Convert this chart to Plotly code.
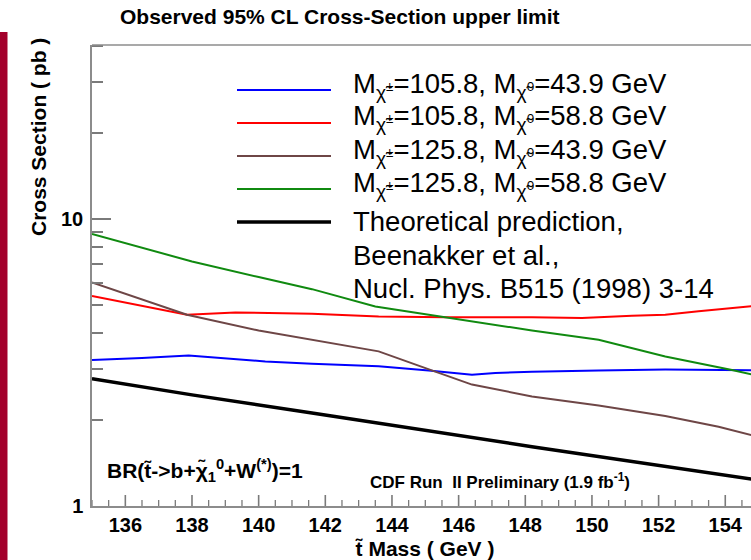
import plotly.graph_objects as go

# ---------------- data ----------------
blue_mass = [135, 136.5, 137.9, 139, 140.2, 141.6, 143.6, 145.1, 146.4, 147.1, 148.2, 150.2, 152.2, 155]
blue_xsec = [3.23, 3.28, 3.35, 3.28, 3.19, 3.13, 3.07, 2.97, 2.87, 2.91, 2.94, 2.97, 2.99, 2.97]

red_mass = [135, 137.85, 139.3, 141.6, 143.6, 145.6, 148.2, 149.7, 151.2, 152.2, 153.2, 155]
red_xsec = [5.40, 4.64, 4.73, 4.68, 4.58, 4.55, 4.55, 4.52, 4.60, 4.64, 4.77, 5.00]

brown_mass = [135, 137.85, 140, 141.6, 143.6, 145.3, 146.4, 148.2, 150.2, 152.2, 153.8, 155]
brown_xsec = [6.01, 4.64, 4.09, 3.80, 3.46, 2.94, 2.65, 2.41, 2.24, 2.06, 1.89, 1.74]

green_mass = [135, 138, 140, 141.6, 143.5, 145.5, 148.2, 150.2, 152.2, 154.2, 155]
green_xsec = [8.87, 7.12, 6.28, 5.70, 4.96, 4.56, 4.09, 3.80, 3.32, 2.98, 2.84]

theory_mass = [135, 138, 141.6, 148.2, 155]
theory_xsec = [2.78, 2.44, 2.11, 1.61, 1.23]

series_names = [
    "M<sub>χ̃<sup>±</sup></sub>=105.8, M<sub>χ̃<sup>0</sup></sub>=43.9 GeV",
    "M<sub>χ̃<sup>±</sup></sub>=105.8, M<sub>χ̃<sup>0</sup></sub>=58.8 GeV",
    "M<sub>χ̃<sup>±</sup></sub>=125.8, M<sub>χ̃<sup>0</sup></sub>=43.9 GeV",
    "M<sub>χ̃<sup>±</sup></sub>=125.8, M<sub>χ̃<sup>0</sup></sub>=58.8 GeV",
]
theory_lines = ["Theoretical prediction,", "Beenakker et al.,", "Nucl. Phys. B515 (1998) 3-14"]

x_tick_vals = [136, 138, 140, 142, 144, 146, 148, 150, 152, 154]
x_minor_vals = [135 + 0.5 * k for k in range(40) if (135 + 0.5 * k) not in x_tick_vals]
y_tick_vals = [1, 10]
y_tick_text = ["1", "10"]
y_minor_vals = [2, 3, 4, 5, 6, 7, 8, 9, 20, 30, 40]

# ---------------- styling ----------------
W, H = 751, 560
ML, MR, MT, MB = 92, 0, 45, 54
PLOT_H = H - MT - MB
FONT = "Liberation Sans, Arial, Helvetica, sans-serif"
AXIS_GRAY = "#8c8c8c"
TICK_GRAY = "#7a7a7a"

colors = ["#0000ff", "#ff0000", "#6e4646", "#108a10", "#000000"]
widths = [2, 2, 2, 2, 3.5]


def xp(px):
    return (px - ML) / (W - ML - MR)


def yp(py):
    return (H - MB - py) / PLOT_H


fig = go.Figure()
data_sets = [
    (blue_mass, blue_xsec),
    (red_mass, red_xsec),
    (brown_mass, brown_xsec),
    (green_mass, green_xsec),
    (theory_mass, theory_xsec),
]
for i, (xs, ys) in enumerate(data_sets):
    fig.add_trace(go.Scatter(x=xs, y=ys, mode="lines",
                             line=dict(color=colors[i], width=widths[i]),
                             showlegend=False, hoverinfo="skip"))

shapes = []
annotations = []

# inside ticks on the x axis (drawn at the axis' own tick values)
for v in x_tick_vals:
    shapes.append(dict(type="line", xref="x", yref="paper", x0=v, x1=v,
                       y0=0, y1=11 / PLOT_H, layer="above",
                       line=dict(color=TICK_GRAY, width=1.6)))
for v in x_minor_vals:
    shapes.append(dict(type="line", xref="x", yref="paper", x0=v, x1=v,
                       y0=0, y1=6 / PLOT_H, layer="above",
                       line=dict(color=TICK_GRAY, width=1.3)))

# left dark-red page bar
shapes.append(dict(type="rect", xref="paper", yref="paper",
                   x0=xp(0), x1=xp(7.5), y0=yp(560), y1=yp(32),
                   fillcolor="#a3002b", line=dict(width=0), layer="above"))
# top frame line
shapes.append(dict(type="line", xref="paper", yref="paper",
                   x0=0, x1=1, y0=1, y1=1,
                   line=dict(color=AXIS_GRAY, width=1.5)))

# legend (drawn manually)
legend_rows_py = [90, 123, 156, 189, 222]
for i, py in enumerate(legend_rows_py):
    shapes.append(dict(type="line", xref="paper", yref="paper",
                       x0=xp(237), x1=xp(331), y0=yp(py), y1=yp(py),
                       line=dict(color=colors[i], width=widths[i])))
for i, name in enumerate(series_names):
    annotations.append(dict(text=name, xref="paper", yref="paper",
                            x=xp(351), y=yp(legend_rows_py[i] - 5),
                            xanchor="left", yanchor="middle", showarrow=False,
                            font=dict(family=FONT, size=27.5, color="black")))
for j, line in enumerate(theory_lines):
    annotations.append(dict(text=line, xref="paper", yref="paper",
                            x=xp(351), y=yp(222 + 33 * j),
                            xanchor="left", yanchor="middle", showarrow=False,
                            font=dict(family=FONT, size=27.5, color="black")))

# title
annotations.append(dict(text="<b>Observed 95% CL Cross-Section upper limit</b>",
                        xref="paper", yref="paper", x=xp(340), y=yp(17),
                        xanchor="center", yanchor="middle", showarrow=False,
                        font=dict(family=FONT, size=21, color="black")))
# y title
annotations.append(dict(text="<b>Cross Section ( pb )</b>", xref="paper", yref="paper",
                        x=xp(38), y=yp(137), xanchor="center", yanchor="middle",
                        textangle=-90, showarrow=False,
                        font=dict(family=FONT, size=21, color="black")))
# x title
annotations.append(dict(text="<b>t̃ Mass ( GeV )</b>", xref="paper", yref="paper",
                        x=xp(424), y=yp(548), xanchor="center", yanchor="middle",
                        showarrow=False, font=dict(family=FONT, size=21, color="black")))
# BR text
annotations.append(dict(text="<b>BR(t̃->b+χ̃<sub>1</sub><sup>0</sup>+W<sup>(*)</sup>)=1</b>",
                        xref="paper", yref="paper", x=xp(105), y=yp(470),
                        xanchor="left", yanchor="middle", showarrow=False,
                        font=dict(family=FONT, size=21, color="black")))
# CDF text
annotations.append(dict(text="<b>CDF Run  II Preliminary (1.9 fb<sup>-1</sup>)</b>",
                        xref="paper", yref="paper", x=xp(368), y=yp(481),
                        xanchor="left", yanchor="middle", showarrow=False,
                        font=dict(family=FONT, size=17, color="black")))

fig.update_layout(
    width=W, height=H,
    margin=dict(l=ML, r=MR, t=MT, b=MB, pad=0),
    paper_bgcolor="white", plot_bgcolor="white",
    shapes=shapes, annotations=annotations,
    showlegend=False,
    xaxis=dict(range=[135, 135 + (W - ML - MR) / 33.33],
               tickmode="array", tickvals=x_tick_vals, ticks="",
               showline=True, linecolor=AXIS_GRAY, linewidth=1.5,
               showgrid=False, zeroline=False, ticklabelstandoff=0,
               tickfont=dict(family=FONT, size=20, color="black", weight="bold")),
    yaxis=dict(type="log", range=[0, 1.607],
               tickmode="array", tickvals=y_tick_vals, ticktext=y_tick_text,
               ticks="inside", ticklen=19, tickwidth=1.5, tickcolor=TICK_GRAY,
               minor=dict(tickmode="array", tickvals=y_minor_vals, ticks="inside",
                          ticklen=11, tickwidth=1.5, tickcolor=TICK_GRAY, showgrid=False),
               showline=True, linecolor=AXIS_GRAY, linewidth=1.5,
               showgrid=False, zeroline=False, ticklabelstandoff=3,
               tickfont=dict(family=FONT, size=20, color="black", weight="bold")),
)

fig.write_html("out.html")
